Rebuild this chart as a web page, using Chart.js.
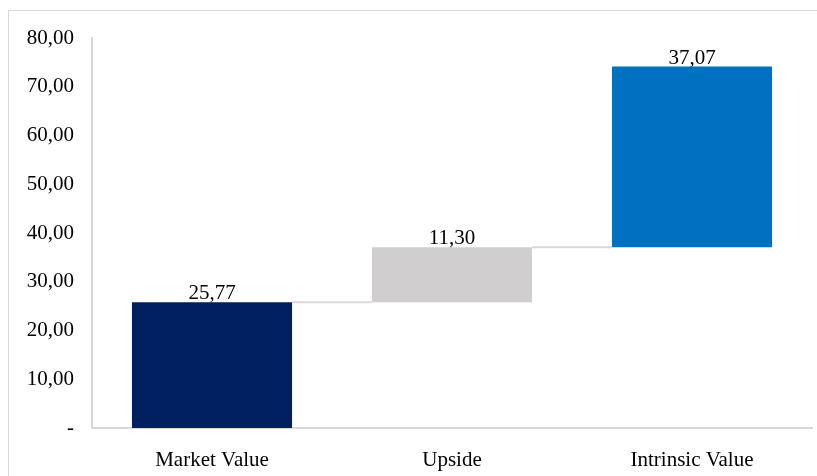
<!DOCTYPE html>
<html>
<head>
<meta charset="utf-8">
<script src="https://cdn.jsdelivr.net/npm/chart.js@4/dist/chart.umd.min.js"></script>
<style>
  html, body { margin: 0; padding: 0; background: #ffffff; }
  #wrap { width: 817px; height: 476px; }
</style>
</head>
<body>
<div id="wrap"><canvas id="chart" width="817" height="476"></canvas></div>
<script>
// Waterfall: market value + upside = intrinsic value
const categories = ['Market Value', 'Upside', 'Intrinsic Value'];
const values = [25.77, 11.30, 37.07];
const barColors = ['#002060', '#d0cece', '#0070c0'];
const yTicks = [0, 10, 20, 30, 40, 50, 60, 70, 80];

// invisible offsets: each step starts where the previous one ended
const offsets = values.map((v, i) => values.slice(0, i).reduce((a, b) => a + b, 0));

const fmt = v => v.toFixed(2).replace('.', ',');
const FONT = { family: '"Liberation Serif", "Times New Roman", serif', size: 21 };

const framePlugin = {
  id: 'frame',
  beforeDraw(chart) {
    const ctx = chart.ctx;
    ctx.save();
    ctx.strokeStyle = '#d9d9d9';
    ctx.lineWidth = 1;
    ctx.strokeRect(8.5, 10.5, 900, 600);
    ctx.restore();
  }
};

const connectorPlugin = {
  id: 'connectors',
  afterDatasetsDraw(chart) {
    const ctx = chart.ctx;
    const meta = chart.getDatasetMeta(1);
    const y = chart.scales.y;
    ctx.save();
    ctx.strokeStyle = '#d9d9d9';
    ctx.lineWidth = 2;
    for (let i = 0; i < values.length - 1; i++) {
      const a = meta.data[i], b = meta.data[i + 1];
      const level = y.getPixelForValue(offsets[i] + values[i]);
      ctx.beginPath();
      ctx.moveTo(a.x + a.width / 2, level);
      ctx.lineTo(b.x - b.width / 2, level);
      ctx.stroke();
    }
    // value labels above each visible step
    ctx.fillStyle = '#000000';
    ctx.font = `${FONT.size}px ${FONT.family}`;
    ctx.textAlign = 'center';
    ctx.textBaseline = 'alphabetic';
    meta.data.forEach((bar, i) => {
      ctx.fillText(fmt(values[i]), bar.x, bar.y - 3);
    });
    ctx.restore();
  }
};

new Chart(document.getElementById('chart'), {
  type: 'bar',
  data: {
    labels: categories,
    datasets: [
      { data: offsets, backgroundColor: 'rgba(0,0,0,0)', stack: 's' },
      { data: values, backgroundColor: barColors, stack: 's' }
    ]
  },
  options: {
    responsive: false,
    animation: false,
    layout: { padding: { left: 0, right: 5, top: 38, bottom: 0 } },
    plugins: { legend: { display: false }, tooltip: { enabled: false } },
    datasets: { bar: { categoryPercentage: 1, barPercentage: 0.667 } },
    scales: {
      x: {
        stacked: true,
        grid: { display: false, drawTicks: false },
        border: { display: true, color: '#d9d9d9', width: 2 },
        ticks: { color: '#000000', font: FONT, padding: 20, maxRotation: 0 },
        afterFit(scale) { scale.height = 48; }
      },
      y: {
        stacked: true,
        min: 0,
        max: 80,
        afterBuildTicks(scale) { scale.ticks = yTicks.map(v => ({ value: v })); },
        grid: { display: false, drawTicks: false },
        border: { display: true, color: '#d9d9d9', width: 2 },
        ticks: {
          color: '#000000',
          font: FONT,
          padding: 18,
          callback: v => (v === 0 ? '-' : fmt(v))
        },
        afterFit(scale) { scale.width = 92; }
      }
    }
  },
  plugins: [framePlugin, connectorPlugin]
});
</script>
</body>
</html>
